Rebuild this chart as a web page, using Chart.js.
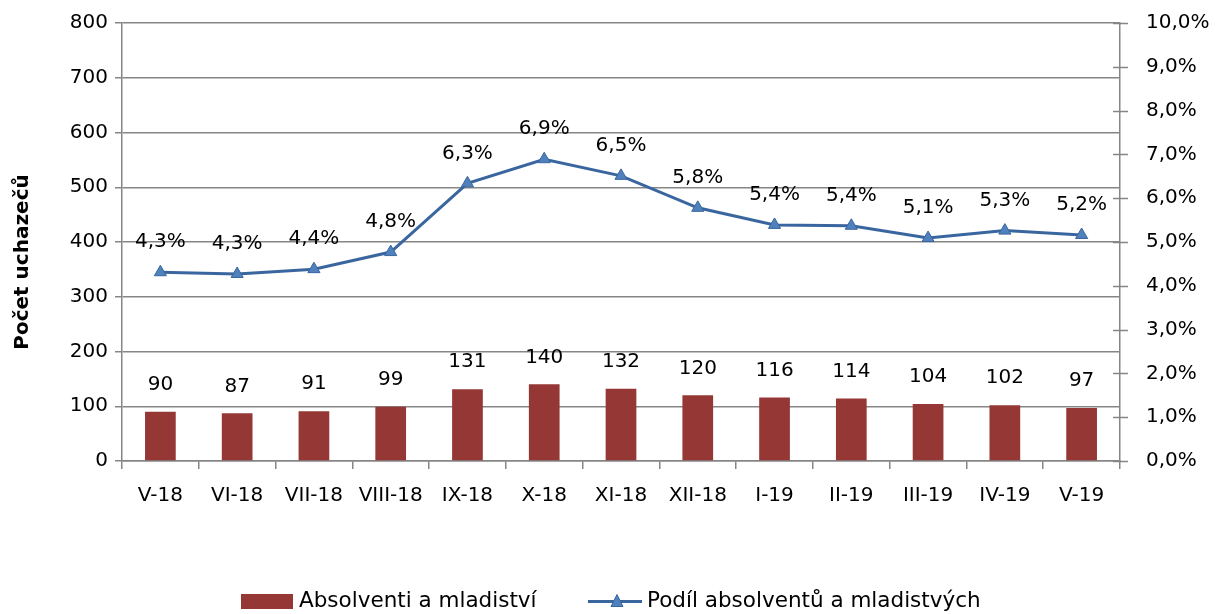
<!DOCTYPE html>
<html>
<head>
<meta charset="utf-8">
<script src="https://cdn.jsdelivr.net/npm/chart.js@4"></script>
<style>
  html, body { margin: 0; padding: 0; background: #fff; }
  #wrap { width: 1216px; height: 614px; }
</style>
</head>
<body>
<div id="wrap"><canvas id="chart" width="1216" height="614"></canvas></div>
<script>
// chart data
const months = ['V-18', 'VI-18', 'VII-18', 'VIII-18', 'IX-18', 'X-18', 'XI-18', 'XII-18', 'I-19', 'II-19', 'III-19', 'IV-19', 'V-19'];
const graduates = [90, 87, 91, 99, 131, 140, 132, 120, 116, 114, 104, 102, 97];
const graduateShare = [4.31, 4.27, 4.38, 4.77, 6.34, 6.89, 6.51, 5.78, 5.39, 5.37, 5.09, 5.26, 5.16];
const leftTicks = [0, 100, 200, 300, 400, 500, 600, 700, 800];
const rightTicks = [0, 1, 2, 3, 4, 5, 6, 7, 8, 9, 10];

const barLabel = 'Absolventi a mladiství';
const lineLabel = 'Podíl absolventů a mladistvých';
const yTitle = 'Počet uchazečů';

const FONT = 'DejaVu Sans';
const axisGrey = '#868686';
const barColor = '#953735';
const lineColor = '#3A66A0';
const markerColor = '#4F81BD';

const fmtPct = v => v.toFixed(1).replace('.', ',') + '%';

// value labels above bars and points
const valueLabels = {
    id: 'valueLabels',
    afterDatasetsDraw(chart) {
        const ctx = chart.ctx;
        ctx.save();
        ctx.font = `20px "${FONT}"`;
        ctx.fillStyle = '#000';
        ctx.textAlign = 'center';
        ctx.textBaseline = 'middle';
        chart.data.datasets.forEach((ds, i) => {
            const meta = chart.getDatasetMeta(i);
            meta.data.forEach((el, j) => {
                const v = ds.data[j];
                if (ds.type === 'bar') {
                    ctx.fillText(String(v), el.x, el.y - 27);
                } else {
                    ctx.fillText(fmtPct(v), el.x, el.y - 30);
                }
            });
        });
        ctx.restore();
    }
};

// y title, right axis tick marks (crossing the axis), legend at the bottom
const extras = {
    id: 'extras',
    afterDraw(chart) {
        const ctx = chart.ctx;
        ctx.save();

        // axis title
        ctx.font = `bold 20px "${FONT}"`;
        ctx.fillStyle = '#000';
        ctx.textAlign = 'center';
        ctx.textBaseline = 'middle';
        ctx.translate(23, 262);
        ctx.rotate(-Math.PI / 2);
        ctx.fillText(yTitle, 0, 0);
        ctx.setTransform(1, 0, 0, 1, 0, 0);

        // right axis ticks
        const r = chart.scales.y1;
        ctx.strokeStyle = axisGrey;
        ctx.lineWidth = 1.5;
        rightTicks.forEach(v => {
            const py = Math.round(r.getPixelForValue(v)) + 0.5;
            ctx.beginPath();
            ctx.moveTo(r.left - 7, py);
            ctx.lineTo(r.left + 8, py);
            ctx.stroke();
        });

        // legend
        const y = 601.5;
        ctx.font = `21.5px "${FONT}"`;
        ctx.textAlign = 'left';
        ctx.fillStyle = barColor;
        ctx.fillRect(241, 594, 52, 15);
        ctx.fillStyle = '#000';
        ctx.fillText(barLabel, 299, y);

        ctx.strokeStyle = lineColor;
        ctx.lineWidth = 3;
        ctx.beginPath();
        ctx.moveTo(588, y);
        ctx.lineTo(642, y);
        ctx.stroke();
        ctx.fillStyle = markerColor;
        ctx.lineWidth = 1;
        ctx.beginPath();
        ctx.moveTo(617, y - 7);
        ctx.lineTo(623, y + 5);
        ctx.lineTo(611, y + 5);
        ctx.closePath();
        ctx.fill();
        ctx.stroke();
        ctx.fillStyle = '#000';
        ctx.fillText(lineLabel, 647, y);
        ctx.restore();
    }
};

new Chart(document.getElementById('chart'), {
    data: {
        labels: months,
        datasets: [
            {
                type: 'line',
                label: lineLabel,
                data: graduateShare,
                yAxisID: 'y1',
                borderColor: lineColor,
                borderWidth: 3,
                backgroundColor: markerColor,
                pointStyle: 'triangle',
                pointRadius: 7,
                pointBorderColor: lineColor,
                pointBorderWidth: 1,
                pointBackgroundColor: markerColor,
                tension: 0,
                order: 1
            },
            {
                type: 'bar',
                label: barLabel,
                data: graduates,
                yAxisID: 'y',
                backgroundColor: barColor,
                barPercentage: 0.4,
                categoryPercentage: 1,
                order: 2
            }
        ]
    },
    options: {
        responsive: false,
        animation: false,
        layout: { padding: { top: 23, bottom: 0, left: 0, right: 0 } },
        plugins: {
            legend: { display: false },
            tooltip: { enabled: false }
        },
        scales: {
            x: {
                offset: true,
                grid: { offset: true, drawOnChartArea: false, color: axisGrey, tickLength: 8, lineWidth: 1.5 },
                border: { color: axisGrey, width: 1.5 },
                ticks: { color: '#000', font: { family: FONT, size: 20 }, padding: 15, maxRotation: 0 },
                afterFit: s => { s.height = 614 - 461; }
            },
            y: {
                position: 'left',
                min: 0,
                max: 800,
                afterBuildTicks: s => { s.ticks = leftTicks.map(v => ({ value: v })); },
                grid: { color: axisGrey, tickLength: 7, lineWidth: 1.5 },
                border: { color: axisGrey, width: 1.5 },
                ticks: { color: '#000', font: { family: FONT, size: 20 }, padding: 7 },
                afterFit: s => { s.width = 122; }
            },
            y1: {
                position: 'right',
                min: 0,
                max: 10,
                afterBuildTicks: s => { s.ticks = rightTicks.map(v => ({ value: v })); },
                grid: { drawOnChartArea: false, color: axisGrey, tickColor: 'rgba(0,0,0,0)', tickLength: 20, lineWidth: 1.5 },
                border: { color: axisGrey, width: 1.5 },
                ticks: { color: '#000', font: { family: FONT, size: 20 }, padding: 6, callback: v => fmtPct(v) },
                afterFit: s => { s.width = 1216 - 1120; }
            }
        }
    },
    plugins: [valueLabels, extras]
});
</script>
</body>
</html>
